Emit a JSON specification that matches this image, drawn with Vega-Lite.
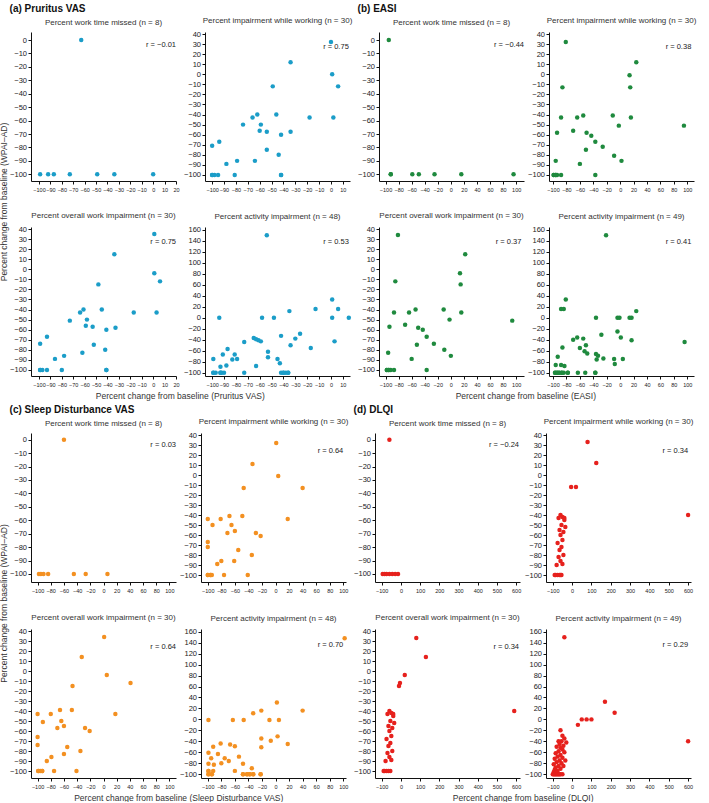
{
"$schema": "https://vega.github.io/schema/vega-lite/v6.json",
"padding": {"left": 0, "top": 4, "right": 0, "bottom": 0},
"background": "white",
"spacing": 4,
"config": {
  "view": {"stroke": null},
  "font": "Liberation Sans",
  "axis": {"grid": false, "domainColor": "#111", "tickColor": "#111", "labelColor": "#222", "labelFont": "Liberation Sans", "tickSize": 3, "labelPadding": 1.5, "domainWidth": 1, "title": null, "labelOverlap": false, "labelFlush": false, "labelSeparation": 0},
  "axisY": {"labelFontSize": 7.5, "labelOverlap": false},
  "axisX": {"labelFontSize": 5.5, "labelPadding": 3, "labelOverlap": false},
  "title": {"font": "Liberation Sans", "fontSize": 8, "fontWeight": "normal", "color": "#333", "offset": 5},
  "circle": {"size": 20, "opacity": 1},
  "text": {"font": "Liberation Sans", "fontSize": 7.5, "color": "#222", "align": "right", "baseline": "middle"}
},
"datasets": {
  "a1": [{"x":-99,"y":-100},{"x":-92,"y":-100},{"x":-87,"y":-100},{"x":-73,"y":-100},{"x":-63,"y":0},{"x":-49,"y":-100},{"x":-34,"y":-100},{"x":0,"y":-100}],
  "a2": [{"x":0,"y":32},{"x":-34,"y":12},{"x":1,"y":0},{"x":6,"y":-12},{"x":-49,"y":-12},{"x":-66,"y":-43},{"x":-62,"y":-40},{"x":-46,"y":-40},{"x":-18,"y":-43},{"x":2,"y":-43},{"x":-74,"y":-50},{"x":-59,"y":-50},{"x":-60,"y":-56},{"x":-54,"y":-57},{"x":-34,"y":-57},{"x":-42,"y":-60},{"x":-100,"y":-71},{"x":-94,"y":-67},{"x":-54,"y":-75},{"x":-64,"y":-86},{"x":-79,"y":-86},{"x":-44,"y":-80},{"x":-88,"y":-89},{"x":-100,"y":-100},{"x":-98,"y":-100},{"x":-95,"y":-100},{"x":-81,"y":-100},{"x":-42,"y":-100},{"x":-100,"y":-100},{"x":-42,"y":-100}],
  "a3": [{"x":1,"y":35},{"x":-34,"y":15},{"x":1,"y":-4},{"x":6,"y":-12},{"x":-48,"y":-15},{"x":-61,"y":-40},{"x":-64,"y":-43},{"x":-45,"y":-40},{"x":-17,"y":-43},{"x":3,"y":-43},{"x":-73,"y":-51},{"x":-58,"y":-50},{"x":-59,"y":-56},{"x":-53,"y":-57},{"x":-33,"y":-58},{"x":-41,"y":-60},{"x":-99,"y":-74},{"x":-93,"y":-67},{"x":-52,"y":-75},{"x":-62,"y":-83},{"x":-78,"y":-86},{"x":-42,"y":-80},{"x":-86,"y":-89},{"x":-99,"y":-100},{"x":-97,"y":-100},{"x":-93,"y":-100},{"x":-80,"y":-100},{"x":-41,"y":-100},{"x":-99,"y":-100},{"x":-41,"y":-100}],
  "a4": [{"x":-54,"y":150},{"x":1,"y":33},{"x":-13,"y":16},{"x":6,"y":16},{"x":-35,"y":12},{"x":-94,"y":0},{"x":-58,"y":0},{"x":-48,"y":0},{"x":1,"y":0},{"x":15,"y":0},{"x":-26,"y":-29},{"x":-30,"y":-38},{"x":-34,"y":-50},{"x":-42,"y":-33},{"x":3,"y":-43},{"x":-17,"y":-55},{"x":-65,"y":-37},{"x":-63,"y":-39},{"x":-61,"y":-41},{"x":-59,"y":-43},{"x":-73,"y":-44},{"x":-53,"y":-62},{"x":-53,"y":-72},{"x":-87,"y":-57},{"x":-91,"y":-67},{"x":-81,"y":-67},{"x":-83,"y":-76},{"x":-79,"y":-75},{"x":-99,"y":-75},{"x":-45,"y":-75},{"x":-43,"y":-83},{"x":-93,"y":-89},{"x":-88,"y":-87},{"x":-63,"y":-88},{"x":-99,"y":-100},{"x":-97,"y":-100},{"x":-93,"y":-100},{"x":-92,"y":-100},{"x":-90,"y":-100},{"x":-73,"y":-100},{"x":-42,"y":-100},{"x":-40,"y":-100},{"x":-38,"y":-100},{"x":-36,"y":-100},{"x":-99,"y":-100},{"x":-93,"y":-100},{"x":-40,"y":-100},{"x":-36,"y":-100}],
  "b1": [{"x":-95,"y":0},{"x":-92,"y":-100},{"x":-59,"y":-100},{"x":-49,"y":-100},{"x":-25,"y":-100},{"x":16,"y":-100},{"x":96,"y":-100},{"x":-92,"y":-100}],
  "b2": [{"x":-81,"y":32},{"x":24,"y":12},{"x":14,"y":-1},{"x":15,"y":-13},{"x":-86,"y":-13},{"x":-88,"y":-43},{"x":-64,"y":-43},{"x":-55,"y":-41},{"x":-11,"y":-41},{"x":16,"y":-43},{"x":-2,"y":-51},{"x":95,"y":-51},{"x":-94,"y":-58},{"x":-70,"y":-56},{"x":-50,"y":-58},{"x":-43,"y":-61},{"x":-37,"y":-67},{"x":-26,"y":-72},{"x":-51,"y":-75},{"x":-9,"y":-81},{"x":-96,"y":-86},{"x":2,"y":-86},{"x":-60,"y":-89},{"x":-99,"y":-100},{"x":-96,"y":-100},{"x":-94,"y":-100},{"x":-88,"y":-100},{"x":-37,"y":-100},{"x":-99,"y":-100},{"x":-96,"y":-100}],
  "b3": [{"x":-81,"y":34},{"x":22,"y":15},{"x":14,"y":-4},{"x":15,"y":-15},{"x":-85,"y":-12},{"x":-87,"y":-43},{"x":-64,"y":-43},{"x":-54,"y":-40},{"x":-11,"y":-40},{"x":16,"y":-43},{"x":-2,"y":-50},{"x":94,"y":-51},{"x":-94,"y":-57},{"x":-70,"y":-55},{"x":-50,"y":-58},{"x":-43,"y":-60},{"x":-37,"y":-67},{"x":-26,"y":-74},{"x":-52,"y":-75},{"x":-10,"y":-80},{"x":-96,"y":-83},{"x":0,"y":-86},{"x":-60,"y":-89},{"x":-98,"y":-100},{"x":-95,"y":-100},{"x":-92,"y":-100},{"x":-87,"y":-100},{"x":-37,"y":-100},{"x":-98,"y":-100},{"x":-95,"y":-100}],
  "b4": [{"x":-21,"y":150},{"x":-81,"y":33},{"x":-88,"y":16},{"x":-84,"y":16},{"x":24,"y":12},{"x":-36,"y":0},{"x":-4,"y":0},{"x":-1,"y":0},{"x":14,"y":0},{"x":17,"y":0},{"x":-4,"y":-25},{"x":1,"y":-36},{"x":17,"y":-41},{"x":96,"y":-44},{"x":-28,"y":-31},{"x":-70,"y":-40},{"x":-64,"y":-36},{"x":-55,"y":-38},{"x":-60,"y":-55},{"x":-86,"y":-54},{"x":-51,"y":-50},{"x":-53,"y":-61},{"x":-49,"y":-65},{"x":-36,"y":-66},{"x":-33,"y":-69},{"x":-35,"y":-76},{"x":-25,"y":-74},{"x":-9,"y":-75},{"x":-8,"y":-84},{"x":4,"y":-75},{"x":-93,"y":-71},{"x":-96,"y":-86},{"x":-88,"y":-86},{"x":-83,"y":-88},{"x":-97,"y":-100},{"x":-94,"y":-100},{"x":-91,"y":-100},{"x":-87,"y":-100},{"x":-84,"y":-100},{"x":-78,"y":-100},{"x":-63,"y":-100},{"x":-52,"y":-100},{"x":-37,"y":-100},{"x":-97,"y":-100},{"x":-94,"y":-100},{"x":-91,"y":-100},{"x":-87,"y":-100},{"x":-37,"y":-100},{"x":-78,"y":-100}],
  "c1": [{"x":-60,"y":0},{"x":-98,"y":-100},{"x":-95,"y":-100},{"x":-91,"y":-100},{"x":-84,"y":-100},{"x":-45,"y":-100},{"x":-27,"y":-100},{"x":6,"y":-100}],
  "c2": [{"x":1,"y":32},{"x":-34,"y":11},{"x":4,"y":-1},{"x":-47,"y":-13},{"x":40,"y":-13},{"x":-100,"y":-44},{"x":-81,"y":-44},{"x":-68,"y":-41},{"x":-49,"y":-41},{"x":18,"y":-44},{"x":-93,"y":-50},{"x":-65,"y":-50},{"x":-71,"y":-58},{"x":-60,"y":-56},{"x":-29,"y":-58},{"x":-22,"y":-61},{"x":-100,"y":-67},{"x":-100,"y":-72},{"x":-55,"y":-75},{"x":-35,"y":-80},{"x":-80,"y":-86},{"x":-61,"y":-86},{"x":-86,"y":-89},{"x":-100,"y":-100},{"x":-96,"y":-100},{"x":-94,"y":-100},{"x":-76,"y":-100},{"x":-41,"y":-100},{"x":-100,"y":-100},{"x":-96,"y":-100}],
  "c3": [{"x":1,"y":34},{"x":-33,"y":14},{"x":5,"y":-4},{"x":41,"y":-12},{"x":-47,"y":-15},{"x":-100,"y":-43},{"x":-80,"y":-43},{"x":-66,"y":-39},{"x":-48,"y":-39},{"x":18,"y":-43},{"x":-92,"y":-51},{"x":-64,"y":-50},{"x":-70,"y":-57},{"x":-60,"y":-55},{"x":-28,"y":-57},{"x":-21,"y":-60},{"x":-100,"y":-66},{"x":-100,"y":-74},{"x":-55,"y":-76},{"x":-35,"y":-80},{"x":-79,"y":-86},{"x":-60,"y":-83},{"x":-86,"y":-90},{"x":-99,"y":-100},{"x":-93,"y":-100},{"x":-75,"y":-100},{"x":-41,"y":-100},{"x":-96,"y":-100},{"x":-99,"y":-100},{"x":-93,"y":-100}],
  "c4": [{"x":102,"y":148},{"x":2,"y":31},{"x":-21,"y":16},{"x":40,"y":16},{"x":-33,"y":11},{"x":-99,"y":-1},{"x":-63,"y":-1},{"x":-47,"y":-1},{"x":-9,"y":-1},{"x":5,"y":-1},{"x":3,"y":-31},{"x":-7,"y":-39},{"x":-21,"y":-51},{"x":18,"y":-45},{"x":-21,"y":-35},{"x":-81,"y":-44},{"x":-67,"y":-46},{"x":-60,"y":-49},{"x":-92,"y":-50},{"x":-99,"y":-61},{"x":-85,"y":-63},{"x":-54,"y":-68},{"x":-95,"y":-71},{"x":-75,"y":-71},{"x":-69,"y":-76},{"x":-91,"y":-83},{"x":-80,"y":-80},{"x":-48,"y":-81},{"x":-99,"y":-81},{"x":-99,"y":-94},{"x":-92,"y":-94},{"x":-60,"y":-94},{"x":-35,"y":-89},{"x":-99,"y":-100},{"x":-94,"y":-100},{"x":-48,"y":-100},{"x":-42,"y":-100},{"x":-38,"y":-100},{"x":-33,"y":-100},{"x":-22,"y":-100},{"x":-99,"y":-100},{"x":-94,"y":-100},{"x":-48,"y":-100},{"x":-42,"y":-100},{"x":-38,"y":-100},{"x":-33,"y":-100},{"x":-22,"y":-100},{"x":-99,"y":-94}],
  "d1": [{"x":-60,"y":0},{"x":-95,"y":-100},{"x":-85,"y":-100},{"x":-75,"y":-100},{"x":-60,"y":-100},{"x":-45,"y":-100},{"x":-30,"y":-100},{"x":-15,"y":-100}],
  "d2": [{"x":80,"y":33},{"x":125,"y":12},{"x":20,"y":-12},{"x":-5,"y":-12},{"x":600,"y":-40},{"x":-60,"y":-40},{"x":-50,"y":-42},{"x":-70,"y":-43},{"x":-40,"y":-45},{"x":-55,"y":-50},{"x":-65,"y":-55},{"x":-45,"y":-57},{"x":-60,"y":-60},{"x":-50,"y":-65},{"x":-75,"y":-68},{"x":-55,"y":-72},{"x":-65,"y":-75},{"x":-45,"y":-80},{"x":-70,"y":-82},{"x":-60,"y":-86},{"x":-50,"y":-89},{"x":-80,"y":-90},{"x":-85,"y":-100},{"x":-75,"y":-100},{"x":-65,"y":-100},{"x":-55,"y":-100},{"x":-90,"y":-100},{"x":-40,"y":-43},{"x":-35,"y":-52},{"x":-60,"y":-100}],
  "d3": [{"x":80,"y":33},{"x":130,"y":14},{"x":20,"y":-4},{"x":-5,"y":-12},{"x":-10,"y":-15},{"x":590,"y":-40},{"x":-60,"y":-40},{"x":-50,"y":-42},{"x":-70,"y":-43},{"x":-40,"y":-45},{"x":-55,"y":-50},{"x":-65,"y":-55},{"x":-45,"y":-57},{"x":-60,"y":-60},{"x":-50,"y":-65},{"x":-75,"y":-68},{"x":-55,"y":-72},{"x":-65,"y":-75},{"x":-45,"y":-80},{"x":-70,"y":-82},{"x":-60,"y":-86},{"x":-50,"y":-89},{"x":-80,"y":-90},{"x":-85,"y":-100},{"x":-75,"y":-100},{"x":-65,"y":-100},{"x":-55,"y":-100},{"x":-90,"y":-100},{"x":-40,"y":-43},{"x":-35,"y":-52}],
  "d4": [{"x":-40,"y":150},{"x":170,"y":32},{"x":220,"y":12},{"x":50,"y":0},{"x":75,"y":0},{"x":100,"y":0},{"x":30,"y":-10},{"x":600,"y":-40},{"x":-60,"y":-20},{"x":-50,"y":-30},{"x":-40,"y":-35},{"x":-70,"y":-40},{"x":-55,"y":-40},{"x":-30,"y":-42},{"x":-65,"y":-45},{"x":-45,"y":-48},{"x":-80,"y":-50},{"x":-60,"y":-52},{"x":-50,"y":-55},{"x":-70,"y":-58},{"x":-40,"y":-60},{"x":-85,"y":-62},{"x":-60,"y":-65},{"x":-75,"y":-68},{"x":-50,"y":-70},{"x":-90,"y":-72},{"x":-65,"y":-75},{"x":-80,"y":-78},{"x":-55,"y":-80},{"x":-95,"y":-82},{"x":-70,"y":-85},{"x":-85,"y":-88},{"x":-60,"y":-90},{"x":-90,"y":-92},{"x":-75,"y":-94},{"x":-95,"y":-96},{"x":-80,"y":-98},{"x":-100,"y":-100},{"x":-95,"y":-100},{"x":-90,"y":-100},{"x":-85,"y":-100},{"x":-80,"y":-100},{"x":-75,"y":-100},{"x":-70,"y":-100},{"x":-65,"y":-100},{"x":-60,"y":-100},{"x":-50,"y":-100},{"x":-45,"y":-85},{"x":-35,"y":-75}],
  "r": [{"p":"a1","t":"r = −0.01"},{"p":"a2","t":"r = 0.75"},{"p":"a3","t":"r = 0.75"},{"p":"a4","t":"r = 0.53"},{"p":"b1","t":"r = −0.44"},{"p":"b2","t":"r = 0.38"},{"p":"b3","t":"r = 0.37"},{"p":"b4","t":"r = 0.41"},{"p":"c1","t":"r = 0.03"},{"p":"c2","t":"r = 0.64"},{"p":"c3","t":"r = 0.64"},{"p":"c4","t":"r = 0.70"},{"p":"d1","t":"r = −0.24"},{"p":"d2","t":"r = 0.34"},{"p":"d3","t":"r = 0.34"},{"p":"d4","t":"r = 0.29"}]
},
"vconcat": [
 {"title": {"text": "Percent change from baseline (WPAI–AD)", "orient": "left", "anchor": "middle", "fontSize": 8.5, "offset": 1}, "spacing": 4,
  "hconcat": [
   {"title": {"text": "(a) Pruritus VAS", "anchor": "start", "fontSize": 10, "fontWeight": "bold", "color": "#111", "offset": 3}, "spacing": 19,
    "vconcat": [
     {"spacing": 3, "hconcat": [
       {"width": 145, "height": 149, "title": "Percent work time missed (n = 8)", "layer": [
         {"data": {"name": "a1"}, "mark": {"type": "circle", "color": "#1b9dc8"}, "encoding": {
           "x": {"field": "x", "type": "quantitative", "scale": {"domain": [-107, 20], "nice": false, "zero": false}, "axis": {"labelOverlap": false, "tickCount": 40, "values": [-100,-90,-80,-70,-60,-50,-40,-30,-20,-10,0,10,20]}},
           "y": {"field": "y", "type": "quantitative", "scale": {"domain": [-105, 6], "nice": false, "zero": false}, "axis": {"labelOverlap": false, "tickCount": 40, "values": [0,-10,-20,-30,-40,-50,-60,-70,-80,-90,-100]}}}},
         {"data": {"name": "r"}, "transform": [{"filter": "datum.p == 'a1'"}], "mark": "text", "encoding": {"x": {"datum": 20}, "y": {"datum": -4}, "text": {"field": "t"}}}]},
       {"width": 145, "height": 149, "title": "Percent impairment while working (n = 30)", "layer": [
         {"data": {"name": "a2"}, "mark": {"type": "circle", "color": "#1b9dc8"}, "encoding": {
           "x": {"field": "x", "type": "quantitative", "scale": {"domain": [-106, 16], "nice": false, "zero": false}, "axis": {"labelOverlap": false, "tickCount": 40, "values": [-100,-90,-80,-70,-60,-50,-40,-30,-20,-10,0,10]}},
           "y": {"field": "y", "type": "quantitative", "scale": {"domain": [-106, 42], "nice": false, "zero": false}, "axis": {"labelOverlap": false, "tickCount": 40, "values": [40,30,20,10,0,-10,-20,-30,-40,-50,-60,-70,-80,-90,-100]}}}},
         {"data": {"name": "r"}, "transform": [{"filter": "datum.p == 'a2'"}], "mark": "text", "encoding": {"x": {"datum": 15}, "y": {"datum": 27}, "text": {"field": "t"}}}]}
     ]},
     {"spacing": 3, "title": {"text": "Percent change from baseline (Pruritus VAS)", "orient": "bottom", "anchor": "middle", "fontSize": 8.5, "offset": 4}, "hconcat": [
       {"width": 145, "height": 149, "title": "Percent overall work impairment (n = 30)", "layer": [
         {"data": {"name": "a3"}, "mark": {"type": "circle", "color": "#1b9dc8"}, "encoding": {
           "x": {"field": "x", "type": "quantitative", "scale": {"domain": [-107, 20], "nice": false, "zero": false}, "axis": {"labelOverlap": false, "tickCount": 40, "values": [-100,-90,-80,-70,-60,-50,-40,-30,-20,-10,0,10,20]}},
           "y": {"field": "y", "type": "quantitative", "scale": {"domain": [-106, 42], "nice": false, "zero": false}, "axis": {"labelOverlap": false, "tickCount": 40, "values": [40,30,20,10,0,-10,-20,-30,-40,-50,-60,-70,-80,-90,-100]}}}},
         {"data": {"name": "r"}, "transform": [{"filter": "datum.p == 'a3'"}], "mark": "text", "encoding": {"x": {"datum": 20}, "y": {"datum": 27}, "text": {"field": "t"}}}]},
       {"width": 145, "height": 149, "title": "Percent activity impairment (n = 48)", "layer": [
         {"data": {"name": "a4"}, "mark": {"type": "circle", "color": "#1b9dc8"}, "encoding": {
           "x": {"field": "x", "type": "quantitative", "scale": {"domain": [-106, 16], "nice": false, "zero": false}, "axis": {"labelOverlap": false, "tickCount": 40, "values": [-100,-90,-80,-70,-60,-50,-40,-30,-20,-10,0,10]}},
           "y": {"field": "y", "type": "quantitative", "scale": {"domain": [-106, 165], "nice": false, "zero": false}, "axis": {"labelOverlap": false, "tickCount": 40, "values": [160,140,120,100,80,60,40,20,0,-20,-40,-60,-80,-100]}}}},
         {"data": {"name": "r"}, "transform": [{"filter": "datum.p == 'a4'"}], "mark": "text", "encoding": {"x": {"datum": 15}, "y": {"datum": 138}, "text": {"field": "t"}}}]}
     ]}
    ]},
   {"title": {"text": "(b) EASI", "anchor": "start", "fontSize": 10, "fontWeight": "bold", "color": "#111", "offset": 3}, "spacing": 19,
    "vconcat": [
     {"spacing": 3, "hconcat": [
       {"width": 145, "height": 149, "title": "Percent work time missed (n = 8)", "layer": [
         {"data": {"name": "b1"}, "mark": {"type": "circle", "color": "#1f8a3e"}, "encoding": {
           "x": {"field": "x", "type": "quantitative", "scale": {"domain": [-110, 112], "nice": false, "zero": false}, "axis": {"labelOverlap": false, "tickCount": 40, "values": [-100,-80,-60,-40,-20,0,20,40,60,80,100]}},
           "y": {"field": "y", "type": "quantitative", "scale": {"domain": [-105, 6], "nice": false, "zero": false}, "axis": {"labelOverlap": false, "tickCount": 40, "values": [0,-10,-20,-30,-40,-50,-60,-70,-80,-90,-100]}}}},
         {"data": {"name": "r"}, "transform": [{"filter": "datum.p == 'b1'"}], "mark": "text", "encoding": {"x": {"datum": 112}, "y": {"datum": -4}, "text": {"field": "t"}}}]},
       {"width": 145, "height": 149, "title": "Percent impairment while working (n = 30)", "layer": [
         {"data": {"name": "b2"}, "mark": {"type": "circle", "color": "#1f8a3e"}, "encoding": {
           "x": {"field": "x", "type": "quantitative", "scale": {"domain": [-106, 110], "nice": false, "zero": false}, "axis": {"labelOverlap": false, "tickCount": 40, "values": [-100,-80,-60,-40,-20,0,20,40,60,80,100]}},
           "y": {"field": "y", "type": "quantitative", "scale": {"domain": [-106, 42], "nice": false, "zero": false}, "axis": {"labelOverlap": false, "tickCount": 40, "values": [40,30,20,10,0,-10,-20,-30,-40,-50,-60,-70,-80,-90,-100]}}}},
         {"data": {"name": "r"}, "transform": [{"filter": "datum.p == 'b2'"}], "mark": "text", "encoding": {"x": {"datum": 106}, "y": {"datum": 27}, "text": {"field": "t"}}}]}
     ]},
     {"spacing": 3, "title": {"text": "Percent change from baseline (EASI)", "orient": "bottom", "anchor": "middle", "fontSize": 8.5, "offset": 4}, "hconcat": [
       {"width": 145, "height": 149, "title": "Percent overall work impairment (n = 30)", "layer": [
         {"data": {"name": "b3"}, "mark": {"type": "circle", "color": "#1f8a3e"}, "encoding": {
           "x": {"field": "x", "type": "quantitative", "scale": {"domain": [-110, 112], "nice": false, "zero": false}, "axis": {"labelOverlap": false, "tickCount": 40, "values": [-100,-80,-60,-40,-20,0,20,40,60,80,100]}},
           "y": {"field": "y", "type": "quantitative", "scale": {"domain": [-106, 42], "nice": false, "zero": false}, "axis": {"labelOverlap": false, "tickCount": 40, "values": [40,30,20,10,0,-10,-20,-30,-40,-50,-60,-70,-80,-90,-100]}}}},
         {"data": {"name": "r"}, "transform": [{"filter": "datum.p == 'b3'"}], "mark": "text", "encoding": {"x": {"datum": 108}, "y": {"datum": 27}, "text": {"field": "t"}}}]},
       {"width": 145, "height": 149, "title": "Percent activity impairment (n = 49)", "layer": [
         {"data": {"name": "b4"}, "mark": {"type": "circle", "color": "#1f8a3e"}, "encoding": {
           "x": {"field": "x", "type": "quantitative", "scale": {"domain": [-106, 110], "nice": false, "zero": false}, "axis": {"labelOverlap": false, "tickCount": 40, "values": [-100,-80,-60,-40,-20,0,20,40,60,80,100]}},
           "y": {"field": "y", "type": "quantitative", "scale": {"domain": [-106, 165], "nice": false, "zero": false}, "axis": {"labelOverlap": false, "tickCount": 40, "values": [160,140,120,100,80,60,40,20,0,-20,-40,-60,-80,-100]}}}},
         {"data": {"name": "r"}, "transform": [{"filter": "datum.p == 'b4'"}], "mark": "text", "encoding": {"x": {"datum": 106}, "y": {"datum": 138}, "text": {"field": "t"}}}]}
     ]}
    ]}
  ]},
 {"title": {"text": "Percent change from baseline (WPAI–AD)", "orient": "left", "anchor": "middle", "fontSize": 8.5, "offset": 1}, "spacing": 4,
  "hconcat": [
   {"title": {"text": "(c) Sleep Disturbance VAS", "anchor": "start", "fontSize": 10, "fontWeight": "bold", "color": "#111", "offset": 3}, "spacing": 19,
    "vconcat": [
     {"spacing": 3, "hconcat": [
       {"width": 145, "height": 149, "title": "Percent work time missed (n = 8)", "layer": [
         {"data": {"name": "c1"}, "mark": {"type": "circle", "color": "#f39021"}, "encoding": {
           "x": {"field": "x", "type": "quantitative", "scale": {"domain": [-110, 110], "nice": false, "zero": false}, "axis": {"labelOverlap": false, "tickCount": 40, "values": [-100,-80,-60,-40,-20,0,20,40,60,80,100]}},
           "y": {"field": "y", "type": "quantitative", "scale": {"domain": [-106, 5], "nice": false, "zero": false}, "axis": {"labelOverlap": false, "tickCount": 40, "values": [0,-10,-20,-30,-40,-50,-60,-70,-80,-90,-100]}}}},
         {"data": {"name": "r"}, "transform": [{"filter": "datum.p == 'c1'"}], "mark": "text", "encoding": {"x": {"datum": 110}, "y": {"datum": -4}, "text": {"field": "t"}}}]},
       {"width": 145, "height": 149, "title": "Percent impairment while working (n = 30)", "layer": [
         {"data": {"name": "c2"}, "mark": {"type": "circle", "color": "#f39021"}, "encoding": {
           "x": {"field": "x", "type": "quantitative", "scale": {"domain": [-110, 104], "nice": false, "zero": false}, "axis": {"labelOverlap": false, "tickCount": 40, "values": [-100,-80,-60,-40,-20,0,20,40,60,80,100]}},
           "y": {"field": "y", "type": "quantitative", "scale": {"domain": [-107, 42], "nice": false, "zero": false}, "axis": {"labelOverlap": false, "tickCount": 40, "values": [40,30,20,10,0,-10,-20,-30,-40,-50,-60,-70,-80,-90,-100]}}}},
         {"data": {"name": "r"}, "transform": [{"filter": "datum.p == 'c2'"}], "mark": "text", "encoding": {"x": {"datum": 100}, "y": {"datum": 24}, "text": {"field": "t"}}}]}
     ]},
     {"spacing": 3, "title": {"text": "Percent change from baseline (Sleep Disturbance VAS)", "orient": "bottom", "anchor": "middle", "fontSize": 8.5, "offset": 4}, "hconcat": [
       {"width": 145, "height": 149, "title": "Percent overall work impairment (n = 30)", "layer": [
         {"data": {"name": "c3"}, "mark": {"type": "circle", "color": "#f39021"}, "encoding": {
           "x": {"field": "x", "type": "quantitative", "scale": {"domain": [-110, 110], "nice": false, "zero": false}, "axis": {"labelOverlap": false, "tickCount": 40, "values": [-100,-80,-60,-40,-20,0,20,40,60,80,100]}},
           "y": {"field": "y", "type": "quantitative", "scale": {"domain": [-107, 42], "nice": false, "zero": false}, "axis": {"labelOverlap": false, "tickCount": 40, "values": [40,30,20,10,0,-10,-20,-30,-40,-50,-60,-70,-80,-90,-100]}}}},
         {"data": {"name": "r"}, "transform": [{"filter": "datum.p == 'c3'"}], "mark": "text", "encoding": {"x": {"datum": 110}, "y": {"datum": 24}, "text": {"field": "t"}}}]},
       {"width": 145, "height": 149, "title": "Percent activity impairment (n = 48)", "layer": [
         {"data": {"name": "c4"}, "mark": {"type": "circle", "color": "#f39021"}, "encoding": {
           "x": {"field": "x", "type": "quantitative", "scale": {"domain": [-110, 104], "nice": false, "zero": false}, "axis": {"labelOverlap": false, "tickCount": 40, "values": [-100,-80,-60,-40,-20,0,20,40,60,80,100]}},
           "y": {"field": "y", "type": "quantitative", "scale": {"domain": [-107, 165], "nice": false, "zero": false}, "axis": {"labelOverlap": false, "tickCount": 40, "values": [160,140,120,100,80,60,40,20,0,-20,-40,-60,-80,-100]}}}},
         {"data": {"name": "r"}, "transform": [{"filter": "datum.p == 'c4'"}], "mark": "text", "encoding": {"x": {"datum": 100}, "y": {"datum": 135}, "text": {"field": "t"}}}]}
     ]}
    ]},
   {"title": {"text": "(d) DLQI", "anchor": "start", "fontSize": 10, "fontWeight": "bold", "color": "#111", "offset": 3}, "spacing": 19,
    "vconcat": [
     {"spacing": 3, "hconcat": [
       {"width": 145, "height": 149, "title": "Percent work time missed (n = 8)", "layer": [
         {"data": {"name": "d1"}, "mark": {"type": "circle", "color": "#e6211d"}, "encoding": {
           "x": {"field": "x", "type": "quantitative", "scale": {"domain": [-135, 620], "nice": false, "zero": false}, "axis": {"labelOverlap": false, "tickCount": 40, "values": [-100,0,100,200,300,400,500,600]}},
           "y": {"field": "y", "type": "quantitative", "scale": {"domain": [-106, 5], "nice": false, "zero": false}, "axis": {"labelOverlap": false, "tickCount": 40, "values": [0,-10,-20,-30,-40,-50,-60,-70,-80,-90,-100]}}}},
         {"data": {"name": "r"}, "transform": [{"filter": "datum.p == 'd1'"}], "mark": "text", "encoding": {"x": {"datum": 615}, "y": {"datum": -4}, "text": {"field": "t"}}}]},
       {"width": 145, "height": 149, "title": "Percent impairment while working (n = 30)", "layer": [
         {"data": {"name": "d2"}, "mark": {"type": "circle", "color": "#e6211d"}, "encoding": {
           "x": {"field": "x", "type": "quantitative", "scale": {"domain": [-135, 615], "nice": false, "zero": false}, "axis": {"labelOverlap": false, "tickCount": 40, "values": [-100,0,100,200,300,400,500,600]}},
           "y": {"field": "y", "type": "quantitative", "scale": {"domain": [-107, 42], "nice": false, "zero": false}, "axis": {"labelOverlap": false, "tickCount": 40, "values": [40,30,20,10,0,-10,-20,-30,-40,-50,-60,-70,-80,-90,-100]}}}},
         {"data": {"name": "r"}, "transform": [{"filter": "datum.p == 'd2'"}], "mark": "text", "encoding": {"x": {"datum": 600}, "y": {"datum": 24}, "text": {"field": "t"}}}]}
     ]},
     {"spacing": 3, "title": {"text": "Percent change from baseline (DLQI)", "orient": "bottom", "anchor": "middle", "fontSize": 8.5, "offset": 4}, "hconcat": [
       {"width": 145, "height": 149, "title": "Percent overall work impairment (n = 30)", "layer": [
         {"data": {"name": "d3"}, "mark": {"type": "circle", "color": "#e6211d"}, "encoding": {
           "x": {"field": "x", "type": "quantitative", "scale": {"domain": [-135, 620], "nice": false, "zero": false}, "axis": {"labelOverlap": false, "tickCount": 40, "values": [-100,0,100,200,300,400,500,600]}},
           "y": {"field": "y", "type": "quantitative", "scale": {"domain": [-107, 42], "nice": false, "zero": false}, "axis": {"labelOverlap": false, "tickCount": 40, "values": [40,30,20,10,0,-10,-20,-30,-40,-50,-60,-70,-80,-90,-100]}}}},
         {"data": {"name": "r"}, "transform": [{"filter": "datum.p == 'd3'"}], "mark": "text", "encoding": {"x": {"datum": 615}, "y": {"datum": 24}, "text": {"field": "t"}}}]},
       {"width": 145, "height": 149, "title": "Percent activity impairment (n = 49)", "layer": [
         {"data": {"name": "d4"}, "mark": {"type": "circle", "color": "#e6211d"}, "encoding": {
           "x": {"field": "x", "type": "quantitative", "scale": {"domain": [-135, 615], "nice": false, "zero": false}, "axis": {"labelOverlap": false, "tickCount": 40, "values": [-100,0,100,200,300,400,500,600]}},
           "y": {"field": "y", "type": "quantitative", "scale": {"domain": [-107, 165], "nice": false, "zero": false}, "axis": {"labelOverlap": false, "tickCount": 40, "values": [160,140,120,100,80,60,40,20,0,-20,-40,-60,-80,-100]}}}},
         {"data": {"name": "r"}, "transform": [{"filter": "datum.p == 'd4'"}], "mark": "text", "encoding": {"x": {"datum": 600}, "y": {"datum": 135}, "text": {"field": "t"}}}]}
     ]}
    ]}
  ]}
]
}
